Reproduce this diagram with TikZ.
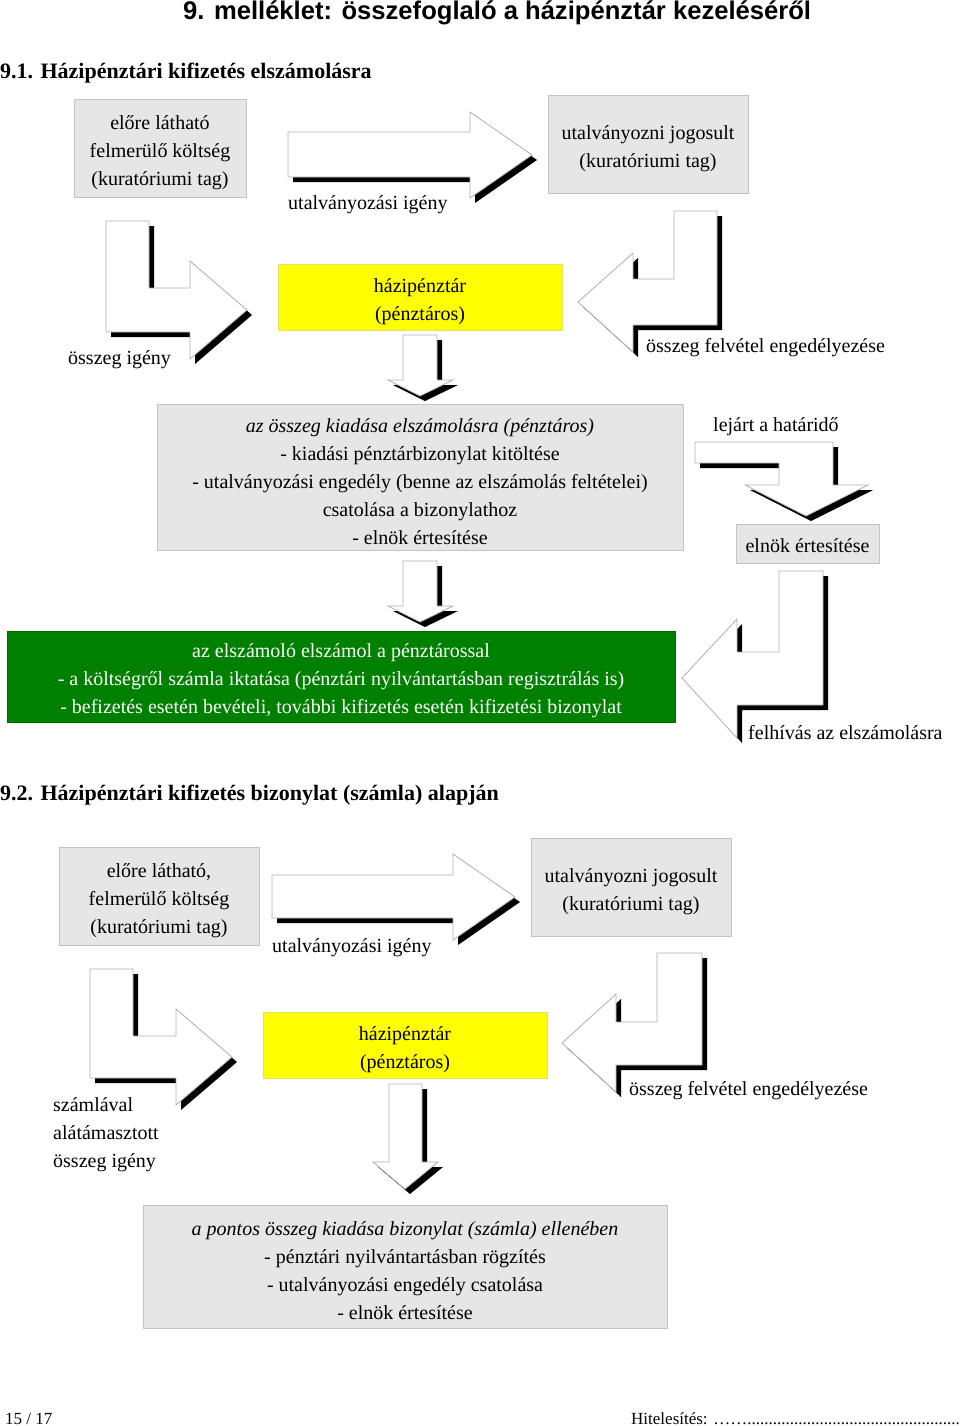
\documentclass[tikz,border=0pt]{standalone}
\usepackage{fontspec}
\setmainfont{Liberation Serif}
\newfontfamily\headfont{Liberation Sans}
\usepackage{tikz}
\usetikzlibrary{shadows}

\definecolor{boxgray}{RGB}{230,230,230}
\definecolor{boxline}{RGB}{195,195,195}
\definecolor{arrowline}{RGB}{175,175,175}
\definecolor{cashyellow}{RGB}{255,255,0}
\definecolor{cashline}{RGB}{225,225,110}
\definecolor{settlegreen}{RGB}{0,128,0}
\definecolor{settleline}{RGB}{0,100,0}

% taller first line, pushes box text a little down
\newcommand{\padtop}{\rule{0pt}{23pt}}

\tikzset{
  bodyfont/.style={font=\fontsize{20}{28}\selectfont},
  infobox/.style={bodyfont, draw=boxline, fill=boxgray, line width=1pt, align=center, inner sep=0pt},
  cashbox/.style={infobox, draw=cashline, fill=cashyellow},
  settlebox/.style={infobox, draw=settleline, fill=settlegreen, text=white},
  arrowtext/.style={bodyfont, anchor=west, inner sep=0pt, align=left},
  blockarrow/.style={draw=arrowline, fill=white, line width=0.8pt,
    drop shadow={shadow xshift=5pt, shadow yshift=-5pt, opacity=1, fill=black}}
}

\begin{document}
\begin{tikzpicture}[x=1pt, y=-1pt]
\useasboundingbox (0,0) rectangle (960,1426);

% Headings
\path
(183,13) node[anchor=west, inner sep=0pt, font=\headfont\bfseries\fontsize{25.6}{30}\selectfont] (title) {9. melléklet: összefoglaló a házipénztár kezeléséről}
(0,73) node[anchor=west, inner sep=0pt, font=\bfseries\fontsize{22}{26}\selectfont] (head1) {9.1. Házipénztári kifizetés elszámolásra}
(0,795) node[anchor=west, inner sep=0pt, font=\bfseries\fontsize{22}{26}\selectfont] (head2) {9.2. Házipénztári kifizetés bizonylat (számla) alapján};


% 9.1 block arrows
\draw[blockarrow] (288,132) -- (470,132) -- (470,112) -- (532,155) -- (470,198) -- (470,177) -- (288,177) -- cycle;
\draw[blockarrow] (106,221) -- (149,221) -- (149,288) -- (190,288) -- (190,261) -- (247,310) -- (190,359) -- (190,332) -- (106,332) -- cycle;
\draw[blockarrow] (717,211) -- (717,325) -- (633,325) -- (633,352) -- (578,302) -- (633,253) -- (633,279) -- (674,279) -- (674,211) -- cycle;
\draw[blockarrow] (403,335) -- (437,335) -- (437,380) -- (453,380) -- (420,396) -- (388,380) -- (403,380) -- cycle;
\draw[blockarrow] (695,442) -- (833,442) -- (833,485) -- (868,485) -- (806,516) -- (745,485) -- (779,485) -- (779,463) -- (695,463) -- cycle;
\draw[blockarrow] (403,561) -- (437,561) -- (437,606) -- (453,606) -- (420,622) -- (388,606) -- (403,606) -- cycle;
\draw[blockarrow] (823,571) -- (823,705) -- (737,705) -- (737,738) -- (682,678) -- (737,619) -- (737,652) -- (779,652) -- (779,571) -- cycle;

% 9.1 boxes
\path
(160,148.5) node[infobox, minimum width=172pt, minimum height=97pt] (cost1) {\padtop előre látható\\felmerülő költség\\(kuratóriumi tag)}
(648,144.5) node[infobox, minimum width=200pt, minimum height=97pt] (approver1) {\padtop utalványozni jogosult\\(kuratóriumi tag)}
(420,297) node[cashbox, minimum width=284pt, minimum height=66pt] (cashier1) {\padtop házipénztár\\(pénztáros)}
(420,477) node[infobox, minimum width=526pt, minimum height=146pt] (payout1) {\padtop\textit{az összeg kiadása elszámolásra (pénztáros)}\\- kiadási pénztárbizonylat kitöltése\\- utalványozási engedély (benne az elszámolás feltételei)\\csatolása a bizonylathoz\\- elnök értesítése}
(807.5,543.5) node[infobox, minimum width=143pt, minimum height=39pt] (notify1) {\rule{0pt}{19pt}elnök értesítése}
(341,676.5) node[settlebox, minimum width=668pt, minimum height=91pt] (settle1) {\padtop az elszámoló elszámol a pénztárossal\\- a költségről számla iktatása (pénztári nyilvántartásban regisztrálás is)\\- befizetés esetén bevételi, további kifizetés esetén kifizetési bizonylat};

% 9.1 arrow labels
\path
(288,205) node[arrowtext] (req1) {utalványozási igény}
(68,360) node[arrowtext] (sum1) {összeg igény}
(646,348) node[arrowtext] (allow1) {összeg felvétel engedélyezése}
(713,427) node[arrowtext] (due1) {lejárt a határidő}
(748,733) node[arrowtext] (call1) {felhívás az elszámolásra};


% 9.2 block arrows
\draw[blockarrow] (272,875) -- (453,875) -- (453,854) -- (515,897) -- (453,940) -- (453,918) -- (272,918) -- cycle;
\draw[blockarrow] (90,969) -- (133,969) -- (133,1036) -- (176,1036) -- (176,1009) -- (232,1057) -- (176,1105) -- (176,1078) -- (90,1078) -- cycle;
\draw[blockarrow] (702,953) -- (702,1065) -- (616,1065) -- (616,1092) -- (562,1043) -- (616,994) -- (616,1022) -- (657,1022) -- (657,953) -- cycle;
\draw[blockarrow] (389,1084) -- (422,1084) -- (422,1162) -- (438,1162) -- (405,1189) -- (373,1162) -- (389,1162) -- cycle;

% 9.2 boxes
\path
(159,896) node[infobox, minimum width=200pt, minimum height=98pt] (cost2) {\padtop előre látható,\\felmerülő költség\\(kuratóriumi tag)}
(631,887) node[infobox, minimum width=200pt, minimum height=98pt] (approver2) {\padtop utalványozni jogosult\\(kuratóriumi tag)}
(405,1045) node[cashbox, minimum width=284pt, minimum height=66pt] (cashier2) {\padtop házipénztár\\(pénztáros)}
(405,1266.5) node[infobox, minimum width=524pt, minimum height=123pt] (payout2) {\padtop\textit{a pontos összeg kiadása bizonylat (számla) ellenében}\\- pénztári nyilvántartásban rögzítés\\- utalványozási engedély csatolása\\- elnök értesítése};

% 9.2 arrow labels
\path
(272,948) node[arrowtext] (req2) {utalványozási igény}
(53,1135) node[arrowtext] (sum2) {számlával\\alátámasztott\\összeg igény}
(629,1091) node[arrowtext] (allow2) {összeg felvétel engedélyezése};


% Footer
\path
(5,1419) node[anchor=west, inner sep=0pt, font=\fontsize{17}{20}\selectfont] (page) {15 / 17}
(631,1419) node[anchor=west, inner sep=0pt, font=\fontsize{17}{20}\selectfont] (sign) {Hitelesítés: ……..................................................};

\end{tikzpicture}
\end{document}
